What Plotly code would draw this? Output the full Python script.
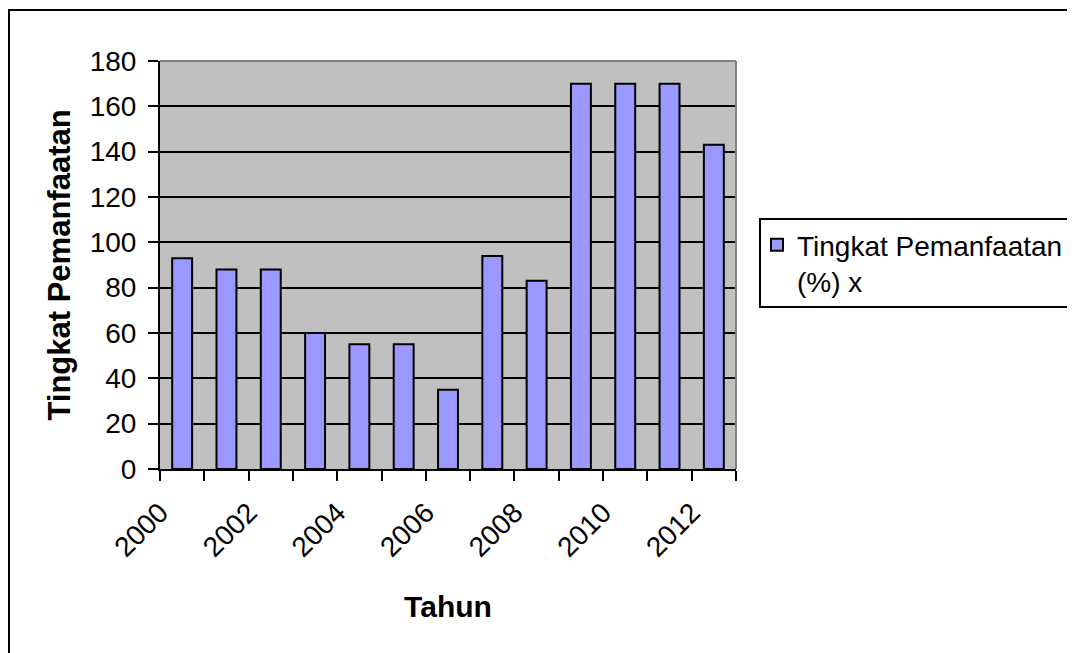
import plotly.graph_objects as go

years = [2000, 2001, 2002, 2003, 2004, 2005, 2006, 2007, 2008, 2009, 2010, 2011, 2012]
values = [93, 88, 88, 60, 55, 55, 35, 94, 83, 170, 170, 170, 143]
label_years = [2000, 2002, 2004, 2006, 2008, 2010, 2012]
label_text = [str(y) for y in label_years]
series_name = "Tingkat Pemanfaatan<br>(%) x"
x_title = "Tahun"
y_title = "Tingkat Pemanfaatan"

FONT = "Liberation Sans, Arial, sans-serif"
OFF = 8  # page body margin
W, H = 1075 - OFF, 653 - OFF
# plot area in screen (reference) pixels
L, R, T, B = 160, 736, 61, 469


def px(x):
    return (x - L) / (R - L)


def py(y):
    return (B - y) / (B - T)


fig = go.Figure()
fig.add_trace(go.Bar(
    x=years, y=values, name=series_name,
    marker=dict(color="#9999FF", line=dict(color="black", width=2)),
    showlegend=True,
))

fig.update_layout(
    width=W, height=H,
    margin=dict(l=L - OFF, r=W - (R - OFF), t=T - OFF, b=H - (B - OFF), pad=0, autoexpand=False),
    paper_bgcolor="white", plot_bgcolor="#C0C0C0",
    font=dict(family=FONT, size=28, color="black"),
    bargap=0.55,
    showlegend=True,
    legend=dict(
        x=px(757), y=py(220), xanchor="left", yanchor="top",
        bgcolor="rgba(0,0,0,0)", borderwidth=0,
        font=dict(family=FONT, size=28, color="black"),
        valign="top", itemsizing="constant",
    ),
    xaxis=dict(
        range=[1999.5, 2012.5],
        tickmode="array", tickvals=label_years, ticktext=label_text,
        tickangle=-45, ticks="", ticklabelstandoff=14, ticklabelshift=-22,
        tickfont=dict(family=FONT, size=28),
        showgrid=False, zeroline=False,
        showline=True, linecolor="black", linewidth=2,
        minor=dict(tickmode="linear", tick0=1999.5, dtick=1, ticks="outside",
                   ticklen=10, tickwidth=2, tickcolor="black", showgrid=False),
        title=dict(text="<b>" + x_title + "</b>", font=dict(family=FONT, size=30), standoff=34),
        fixedrange=True, automargin=False,
    ),
    yaxis=dict(
        range=[0, 180], tickmode="linear", tick0=0, dtick=20,
        ticks="outside", ticklen=10, tickwidth=2, tickcolor="black",
        ticklabelstandoff=6,
        showgrid=True, gridcolor="black", gridwidth=2,
        zeroline=False, showline=True, linecolor="black", linewidth=2,
        title=dict(text="<b>" + y_title + "</b>", font=dict(family=FONT, size=31), standoff=10),
        fixedrange=True, automargin=False,
    ),
    shapes=[
        dict(type="line", xref="paper", yref="paper", x0=0, x1=1, y0=1, y1=1,
             line=dict(color="#808080", width=2), layer="above"),
        dict(type="line", xref="paper", yref="paper", x0=1, x1=1, y0=0, y1=1,
             line=dict(color="#808080", width=2), layer="above"),
        dict(type="rect", xref="paper", yref="paper", x0=px(760), x1=px(1072), y0=py(307), y1=py(219),
             line=dict(color="black", width=2), fillcolor="rgba(0,0,0,0)", layer="above"),
        dict(type="rect", xref="paper", yref="paper", x0=px(9), x1=px(1090), y0=py(670), y1=py(10),
             line=dict(color="black", width=2), fillcolor="rgba(0,0,0,0)", layer="above"),
    ],
)

fig.write_html("out.html")
